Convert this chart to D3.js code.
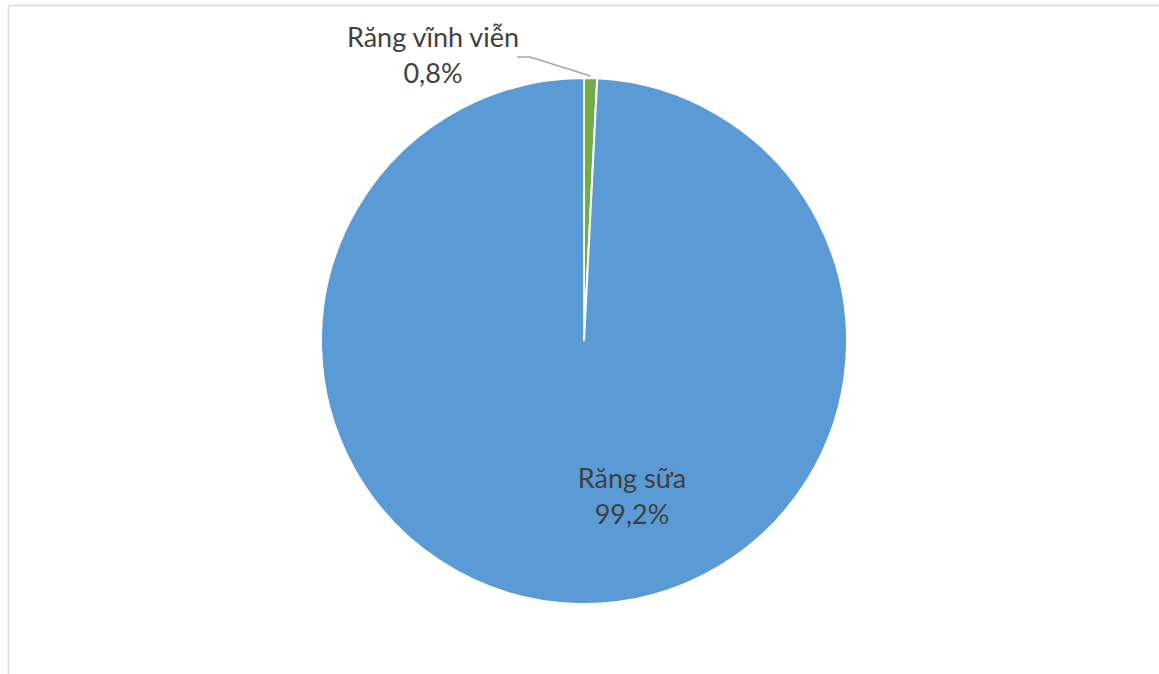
<!DOCTYPE html>
<html>
<head>
<meta charset="utf-8">
<script src="https://cdn.jsdelivr.net/npm/d3@7"></script>
<style>
    body { margin: 0; background: #ffffff; }
    svg text { font-family: Lato, "Open Sans", sans-serif; fill: #404040; }
</style>
</head>
<body>
<div id="chart"></div>
<script>
var categories = ['Răng vĩnh viễn', 'Răng sữa'];
var values = [0.8, 99.2];
var valueLabels = ['0,8%', '99,2%'];
var colors = ['#70AD47', '#5B9BD5'];

(function() {
    'use strict';
    var width, height, svg, cx, cy, radius, pie, arc, arcs, g, data, i;

    width = 1159;
    height = 674;
    cx = 584;
    cy = 341;
    radius = 263;

    svg = d3.select('#chart').append('svg')
        .attr('width', width)
        .attr('height', height);

    // Chart border
    svg.append('rect')
        .attr('x', 8.5)
        .attr('y', 5.5)
        .attr('width', width + 10)
        .attr('height', height + 10)
        .attr('fill', 'none')
        .attr('stroke', '#d9d9d9')
        .attr('stroke-width', 1.5);

    data = [];
    for (i = 0; i < categories.length; i++) {
        data.push({ name: categories[i], value: values[i], label: valueLabels[i], color: colors[i] });
    }

    pie = d3.pie().sort(null).value(function(d) { return d.value; });
    arc = d3.arc().innerRadius(0).outerRadius(radius);
    arcs = pie(data);

    g = svg.append('g').attr('transform', 'translate(' + cx + ',' + cy + ')');

    g.selectAll('path')
        .data(arcs)
        .enter().append('path')
        .attr('d', arc)
        .attr('fill', function(d) { return d.data.color; })
        .attr('stroke', '#ffffff')
        .attr('stroke-width', 2);

    // Leader line for the small slice
    var outer = d3.arc().innerRadius(radius + 1).outerRadius(radius + 1).centroid(arcs[0]);
    svg.append('polyline')
        .attr('points', [[517, 57], [530, 57], [cx + outer[0], cy + outer[1] - 1]].map(function(p) { return p.join(','); }).join(' '))
        .attr('fill', 'none')
        .attr('stroke', '#a6a6a6')
        .attr('stroke-width', 1.5);

    // Labels
    var labelPos = [[433, 47], [632, 488]];
    for (i = 0; i < arcs.length; i++) {
        var t = svg.append('text')
            .attr('x', labelPos[i][0])
            .attr('y', labelPos[i][1])
            .attr('text-anchor', 'middle')
            .attr('font-size', '27');
        t.append('tspan').attr('x', labelPos[i][0]).text(arcs[i].data.name);
        t.append('tspan').attr('x', labelPos[i][0]).attr('dy', 36).text(arcs[i].data.label);
    }
}());
</script>
</body>
</html>
